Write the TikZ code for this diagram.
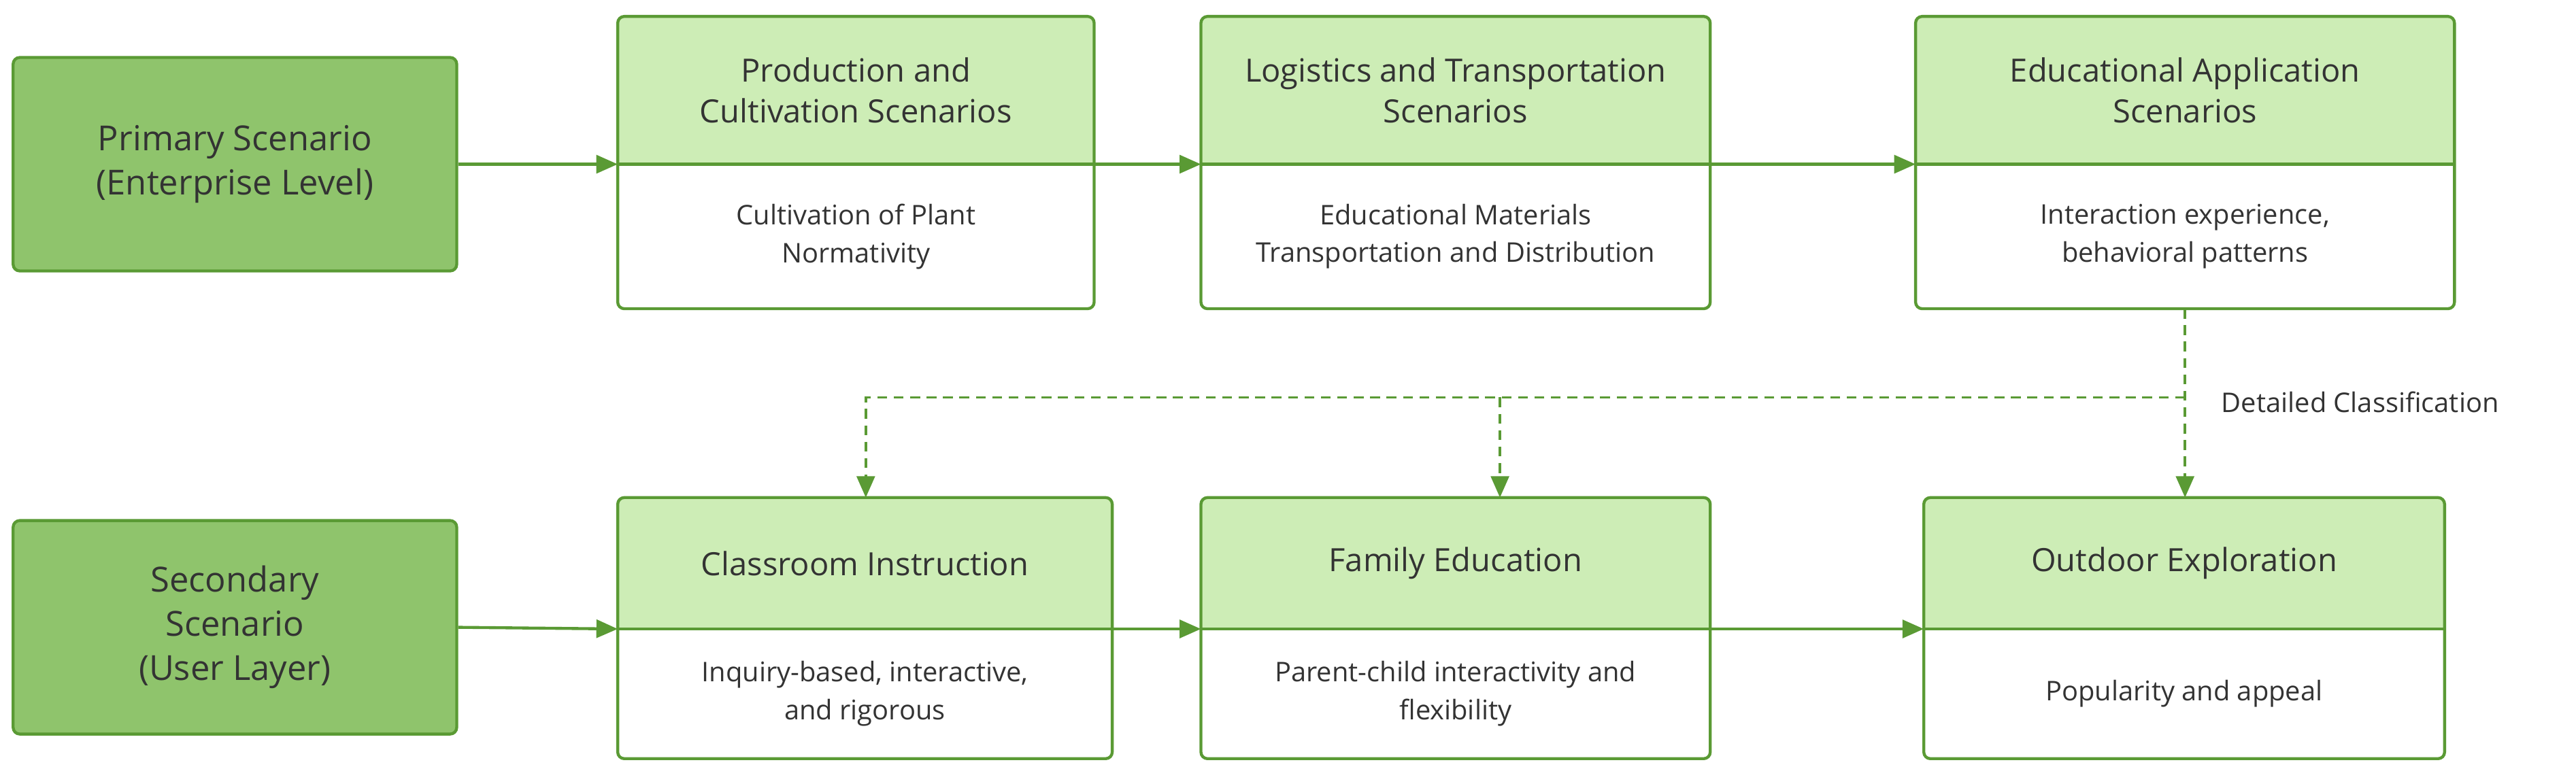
\documentclass[tikz,border=0pt]{standalone}
\usepackage{fontspec}
\setmainfont{Open Sans}
\usetikzlibrary{arrows.meta}
\definecolor{bord}{HTML}{5A9A34}
\definecolor{hdr}{HTML}{CDEDB6}
\definecolor{lft}{HTML}{8FC46C}
\definecolor{txt}{HTML}{333333}
\tikzset{
 lbox/.style={draw=bord,line width=1.8pt,fill=lft,rounded corners=4pt,text=txt,font=\fontsize{21}{27}\selectfont,align=center,inner sep=0pt},
 htxt/.style={text=txt,font=\fontsize{19.5}{25}\selectfont,align=center,inner sep=0pt},
 btxt/.style={text=txt,font=\fontsize{16.5}{23}\selectfont,align=center,inner sep=0pt},
 arr/.style={draw=bord,line width=1.8pt,-{Triangle[length=13pt,width=11pt]}},
 darr/.style={draw=bord,line width=1.6pt,dash pattern=on 6pt off 4pt,-{Triangle[length=13pt,width=11pt]}},
}
\newcommand{\mycard}[8]{%
 \coordinate (#1-nw) at (#2,#3);
 \coordinate (#1-se) at (#4,#5);
 \fill[white,rounded corners=4pt] (#2,#3) rectangle (#4,#5);
 \begin{scope}
 \clip[rounded corners=4pt] (#2,#3) rectangle (#4,#5);
 \fill[hdr] (#2,#3) rectangle (#4,#6);
 \end{scope}
 \draw[bord,line width=1.8pt] (#2,#6) -- (#4,#6);
 \draw[bord,line width=1.8pt,rounded corners=4pt] (#2,#3) rectangle (#4,#5);
 \node[htxt] (#1h) at ({(#2+#4)/2},{(#3+#6)/2}) {#7};
 \node[btxt] (#1b) at ({(#2+#4)/2},{(#6+#5)/2}) {#8};
 \coordinate (#1L) at (#2,#6);
 \coordinate (#1R) at (#4,#6);
 \coordinate (#1T) at ({(#2+#4)/2},#3);
 \coordinate (#1B) at ({(#2+#4)/2},#5);
}
\begin{document}
\begin{tikzpicture}[x=1pt,y=-1pt]
\useasboundingbox (0,0) rectangle (1568,468);
\node[lbox,minimum width=270pt,minimum height=130pt] (prim) at (143,100) {Primary Scenario\\(Enterprise Level)};
\node[lbox,minimum width=270pt,minimum height=130pt] (sec) at (143,382) {Secondary\\Scenario\\(User Layer)};
\mycard{a}{376}{10}{666}{188}{100}{Production and\\Cultivation Scenarios}{Cultivation of Plant\\Normativity}
\mycard{b}{731}{10}{1041}{188}{100}{Logistics and Transportation\\Scenarios}{Educational Materials\\Transportation and Distribution}
\mycard{c}{1166}{10}{1494}{188}{100}{Educational Application\\Scenarios}{Interaction experience,\\behavioral patterns}
\mycard{d}{376}{303}{677}{462}{383}{Classroom Instruction}{Inquiry-based, interactive,\\and rigorous}
\mycard{e}{731}{303}{1041}{462}{383}{Family Education}{Parent-child interactivity and\\flexibility}
\mycard{f}{1171}{303}{1488}{462}{383}{Outdoor Exploration}{Popularity and appeal}
\draw[arr] (prim.east) -- (aL);
\draw[arr] (aR) -- (bL);
\draw[arr] (bR) -- (cL);
\draw[arr] (sec.east) -- (dL);
\draw[arr] (dR) -- (eL);
\draw[arr] (eR) -- (fL);
\coordinate (split) at (1330,242);
\draw[darr] (1330,188) -- (1330,303);
\draw[darr] (split) -- (527,242) -- (527,303);
\draw[darr] (913,242) -- (913,303);
\node[btxt,anchor=west] (lbl) at (1352,245) {Detailed Classification};
\end{tikzpicture}
\end{document}
